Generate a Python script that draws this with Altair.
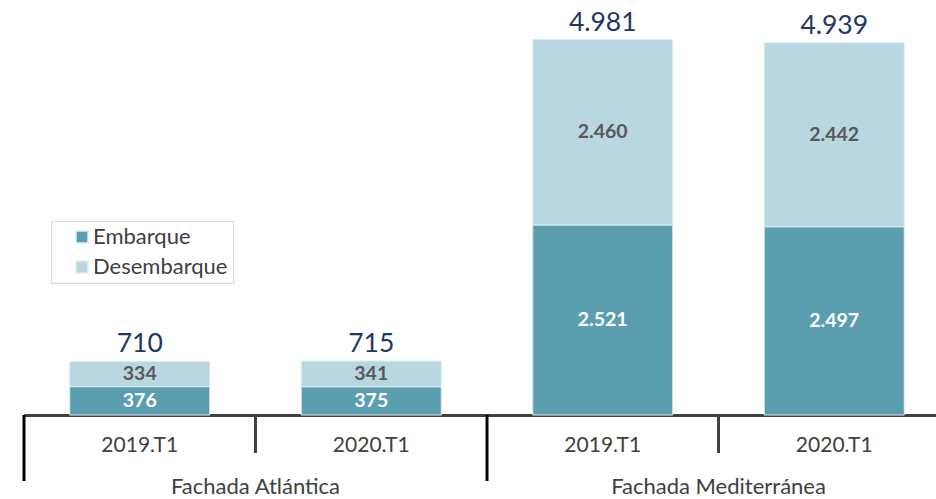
import altair as alt
import pandas as pd

# Data
groups = ["Fachada Atlántica", "Fachada Atlántica", "Fachada Mediterránea", "Fachada Mediterránea"]
group_names = ["Fachada Atlántica", "Fachada Mediterránea"]
periods = ["2019.T1", "2020.T1", "2019.T1", "2020.T1"]
embarque = [376, 375, 2521, 2497]
desembarque = [334, 341, 2460, 2442]
totals = [710, 715, 4981, 4939]
series = ["Embarque", "Desembarque"]
colors = ["#5A9EB0", "#B8D7E1"]
label_colors = ["#FFFFFF", "#595959"]


def fmt(v):
    return f"{v:,}".replace(",", ".")


keys = [f"{g}|{p}" for g, p in zip(groups, periods)]
rows = []
for k, e, d in zip(keys, embarque, desembarque):
    rows.append({"key": k, "serie": "Embarque", "order": 0, "value": e, "label": fmt(e), "lc": label_colors[0]})
    rows.append({"key": k, "serie": "Desembarque", "order": 1, "value": d, "label": fmt(d), "lc": label_colors[1]})
df = pd.DataFrame(rows)

tot = pd.DataFrame({"key": keys, "total": totals})
tot["label"] = tot["total"].map(fmt)

# group separators / group labels
sep = pd.DataFrame({"key": keys, "major": [True, False, True, False]})
glab = pd.DataFrame({"grp": group_names})

FONT = "Lato"
H = 415

xscale = alt.Scale(domain=keys, range=[0, 926], paddingInner=0.395, paddingOuter=0.1975)
xscale_cells = alt.Scale(domain=keys, range=[0, 926], paddingInner=0, paddingOuter=0)
xscale_groups = alt.Scale(domain=group_names, range=[0, 926], paddingInner=0, paddingOuter=0)
yscale = alt.Scale(domain=[0, 5505], nice=False)

x = alt.X("key:N", scale=xscale, sort=keys, title=None,
          axis=alt.Axis(labelExpr="split(datum.label, '|')[1]", labelFontSize=21,
                        labelColor="#404040", labelFont=FONT, labelPadding=19,
                        ticks=False, domainColor="#404040", domainWidth=3, labelAngle=0))
x_plain = alt.X("key:N", scale=xscale, sort=keys, axis=None)

bars = alt.Chart(df).mark_bar(stroke="#DDEEF3", strokeWidth=1).encode(
    x=x,
    y=alt.Y("sum(value):Q", scale=yscale, axis=None, stack="zero"),
    color=alt.Color("serie:N", scale=alt.Scale(domain=series, range=colors),
                    legend=alt.Legend(title=None, orient="none", legendX=27, legendY=221,
                                      symbolType="square", symbolSize=144, labelFontSize=22,
                                      labelColor="#404040", labelFont=FONT,
                                      strokeColor="#D9D9D9", fillColor="white",
                                      padding=5, rowPadding=8, symbolOffset=15, labelOffset=0,
                                      labelExpr="datum.label + '\u00a0\u00a0\u00a0\u00a0'",
                                      labelLimit=300, offset=0)),
    order=alt.Order("order:Q"),
)

seg_labels = alt.Chart(df).mark_text(fontSize=19.5, fontWeight="bold", font=FONT).encode(
    x=x_plain,
    y=alt.Y("value:Q", scale=yscale, stack="zero", bandPosition=0.5, axis=None),
    text="label:N",
    color=alt.Color("lc:N", scale=None),
    detail="serie:N",
    order=alt.Order("order:Q"),
)

tot_labels = alt.Chart(tot).mark_text(fontSize=26.5, color="#1F3864", font=FONT, baseline="bottom", dy=-3).encode(
    x=x_plain,
    y=alt.Y("total:Q", scale=yscale, axis=None),
    text="label:N",
)

seps_minor = alt.Chart(sep).transform_filter("!datum.major").mark_rule(color="#404040", strokeWidth=3).encode(
    x=alt.X("key:N", scale=xscale_cells, sort=keys, bandPosition=0, axis=None),
    y=alt.value(H),
    y2=alt.value(453),
)
seps_major = alt.Chart(sep).transform_filter("datum.major").mark_rule(color="#000000", strokeWidth=3).encode(
    x=alt.X("key:N", scale=xscale_cells, sort=keys, bandPosition=0, axis=None),
    y=alt.value(H),
    y2=alt.value(481),
)

glabels = alt.Chart(glab).mark_text(fontSize=22, color="#404040", font=FONT, baseline="alphabetic").encode(
    x=alt.X("grp:N", scale=xscale_groups, sort=group_names, axis=None),
    y=alt.value(494),
    text="grp:N",
)

chart = alt.layer(bars, seg_labels, tot_labels, seps_minor, seps_major, glabels).resolve_scale(
    x="independent"
).properties(
    width=912, height=H,
    autosize=alt.AutoSizeParams(type="none"),
    padding={"left": 24, "top": 0, "right": 0, "bottom": 499 - H},
).configure_view(stroke=None)

chart.save("out.html", embed_options={"renderer": "svg", "actions": False})
